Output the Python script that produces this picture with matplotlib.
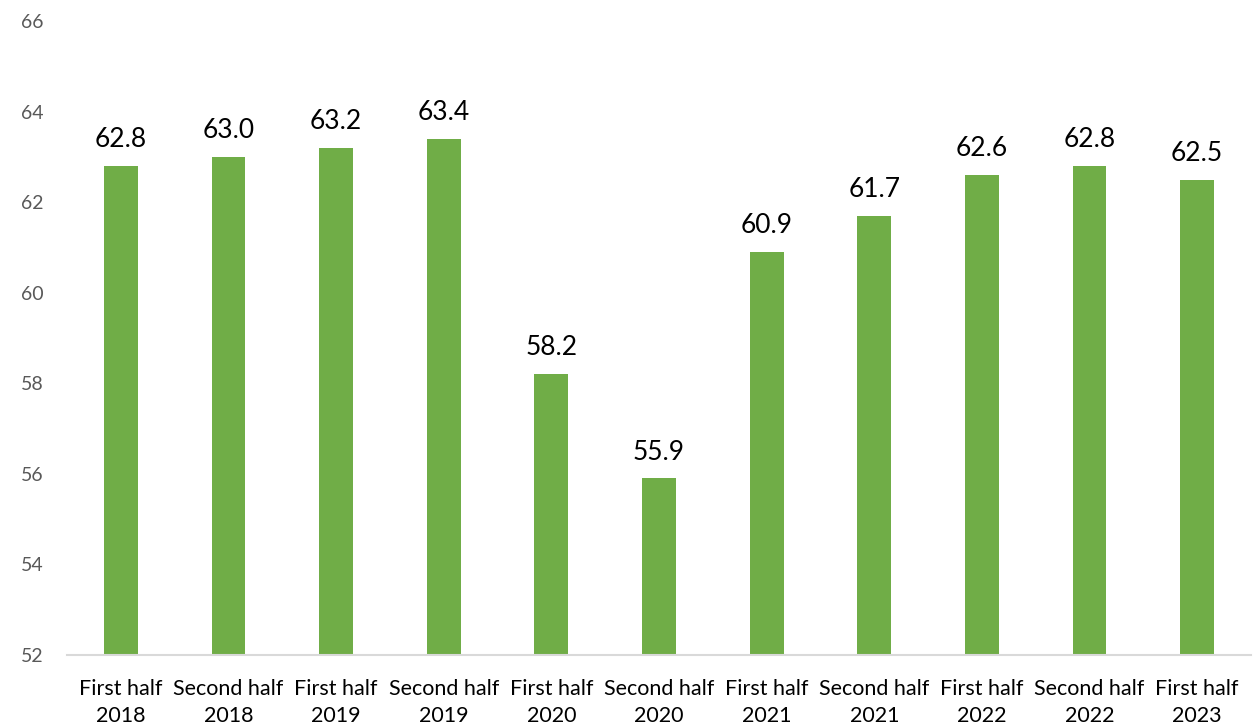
import matplotlib
matplotlib.use("Agg")
import matplotlib.pyplot as plt

categories = ["First half\n2018", "Second half\n2018", "First half\n2019", "Second half\n2019",
              "First half\n2020", "Second half\n2020", "First half\n2021", "Second half\n2021",
              "First half\n2022", "Second half\n2022", "First half\n2023"]
values = [62.8, 63.0, 63.2, 63.4, 58.2, 55.9, 60.9, 61.7, 62.6, 62.8, 62.5]
yticks = [52, 54, 56, 58, 60, 62, 64, 66]

plt.rcParams['font.family'] = ['Lato', 'DejaVu Sans']

fig = plt.figure(figsize=(12.55, 7.28), dpi=100)
ax = fig.add_axes([0.0534, 0.1003, 0.9434, 0.8707])
x = list(range(len(categories)))
ax.bar(x, values, width=0.315, color="#70AD47", zorder=2)
ax.set_ylim(52, 66)
ax.set_xlim(-0.5, len(categories) - 0.5)
ax.set_yticks(yticks)
ax.set_yticklabels([str(t) for t in yticks], color="#595959", fontsize=14)
ax.set_xticks(x)
ax.set_xticklabels(categories, fontsize=15.5, color="black", linespacing=1.45)
ax.tick_params(axis='both', length=0)
ax.tick_params(axis='y', pad=17)
ax.tick_params(axis='x', pad=17)
for s in ["top", "right", "left"]:
    ax.spines[s].set_visible(False)
ax.spines["bottom"].set_color("#D9D9D9")
ax.spines["bottom"].set_linewidth(1.5)
for xi, v in zip(x, values):
    ax.annotate(f"{v:.1f}", (xi, v), xytext=(0, 10), textcoords="offset points",
                ha="center", va="bottom", fontsize=19, color="black")
fig.savefig("out.png", dpi=100)
